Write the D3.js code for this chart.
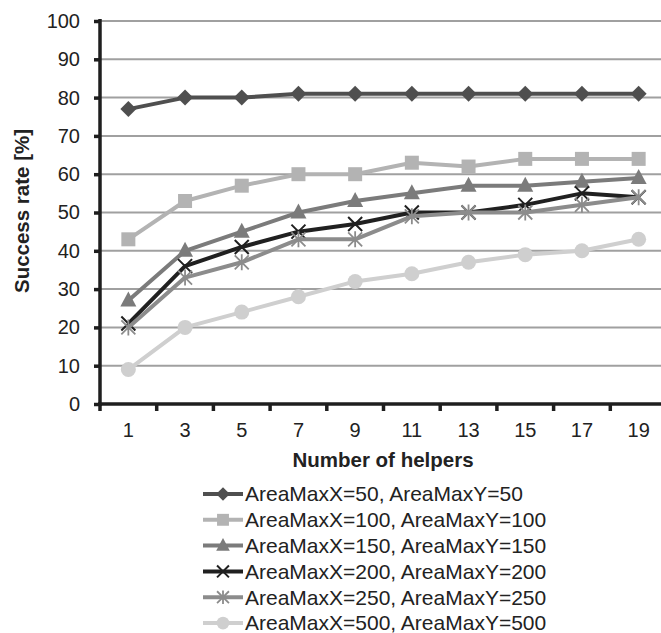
<!DOCTYPE html>
<html>
<head>
<meta charset="utf-8">
<script src="https://cdn.jsdelivr.net/npm/d3@7"></script>
<style>
  html, body { margin: 0; padding: 0; background: #fff; }
  svg { display: block; font-family: "Liberation Sans", Arial, sans-serif; }
</style>
</head>
<body>
<svg id="chart" width="661" height="633"></svg>
<script>
// Number of helpers (x categories)
const helpers = ["1", "3", "5", "7", "9", "11", "13", "15", "17", "19"];
const yTicks = [0, 10, 20, 30, 40, 50, 60, 70, 80, 90, 100];

// Success rate [%] per area size
const area50  = [77, 80, 80, 81, 81, 81, 81, 81, 81, 81];
const area100 = [43, 53, 57, 60, 60, 63, 62, 64, 64, 64];
const area150 = [27, 40, 45, 50, 53, 55, 57, 57, 58, 59];
const area200 = [21, 36, 41, 45, 47, 50, 50, 52, 55, 54];
const area250 = [20, 33, 37, 43, 43, 49, 50, 50, 52, 54];
const area500 = [9, 20, 24, 28, 32, 34, 37, 39, 40, 43];

const seriesNames = [
  "AreaMaxX=50, AreaMaxY=50",
  "AreaMaxX=100, AreaMaxY=100",
  "AreaMaxX=150, AreaMaxY=150",
  "AreaMaxX=200, AreaMaxY=200",
  "AreaMaxX=250, AreaMaxY=250",
  "AreaMaxX=500, AreaMaxY=500"
];
const seriesValues = [area50, area100, area150, area200, area250, area500];
const seriesColors = ["#4f4f4f", "#b3b3b3", "#7b7b7b", "#202020", "#8c8c8c", "#cfcfcf"];
const seriesMarkers = ["diamond", "square", "triangle", "cross", "asterisk", "circle"];

const series = seriesNames.map((name, i) => ({
  name, values: seriesValues[i], color: seriesColors[i], marker: seriesMarkers[i]
}));

const svg = d3.select("#chart");

const x = d3.scaleBand().domain(helpers).range([100, 667]);
const y = d3.scaleLinear().domain([0, 100]).range([404, 21]);

// horizontal gridlines
svg.append("g")
  .selectAll("line")
  .data(yTicks.filter(t => t > 0))
  .join("line")
  .attr("x1", 100).attr("x2", 661)
  .attr("y1", d => y(d)).attr("y2", d => y(d))
  .attr("stroke", "#a0a0a0").attr("stroke-width", 2);

// y axis
const yAxis = svg.append("g")
  .attr("transform", "translate(100,0)")
  .call(d3.axisLeft(y).tickValues(yTicks).tickSize(6).tickPadding(14));
yAxis.select(".domain").attr("stroke", "#1e1e1e").attr("stroke-width", 3.5)
  .attr("d", `M0,${y(100) - 2}V${y(0) + 2}`);
yAxis.selectAll(".tick line").attr("stroke", "#1e1e1e").attr("stroke-width", 3.5);
yAxis.selectAll(".tick text").attr("font-size", 20).attr("fill", "#222")
  .attr("font-family", "'Liberation Sans', Arial, sans-serif");

// x axis (ticks on category boundaries)
const xAxisG = svg.append("g").attr("transform", `translate(0,${y(0)})`);
xAxisG.append("line")
  .attr("x1", 98).attr("x2", 661)
  .attr("stroke", "#1e1e1e").attr("stroke-width", 3.5);
xAxisG.selectAll("line.tick")
  .data(helpers)
  .join("line")
  .attr("class", "tick")
  .attr("x1", d => x(d)).attr("x2", d => x(d))
  .attr("y1", 0).attr("y2", 7)
  .attr("stroke", "#1e1e1e").attr("stroke-width", 3.5);
xAxisG.selectAll("text")
  .data(helpers)
  .join("text")
  .attr("x", d => x(d) + x.bandwidth() / 2)
  .attr("y", 26)
  .attr("dy", "0.35em")
  .attr("text-anchor", "middle")
  .attr("font-size", 20).attr("fill", "#222")
  .text(d => d);

// axis titles
svg.append("text")
  .attr("x", 383).attr("y", 460).attr("dy", "0.35em")
  .attr("text-anchor", "middle")
  .attr("font-size", 20.5).attr("font-weight", "bold").attr("fill", "#222")
  .text("Number of helpers");
svg.append("text")
  .attr("transform", "translate(22,211) rotate(-90)")
  .attr("dy", "0.35em")
  .attr("text-anchor", "middle")
  .attr("font-size", 20.5).attr("font-weight", "bold").attr("fill", "#222")
  .text("Success rate [%]");

// marker drawing
function drawMarker(g, type, color, k = 1) {
  switch (type) {
    case "diamond":
      g.append("path").attr("d", `M0,${-8 * k}L${8 * k},0L0,${8 * k}L${-8 * k},0Z`).attr("fill", color);
      break;
    case "square":
      g.append("rect").attr("x", -7 * k).attr("y", -7 * k)
        .attr("width", 14 * k).attr("height", 14 * k).attr("fill", color);
      break;
    case "triangle":
      g.append("path").attr("d", `M0,${-9 * k}L${8 * k},${6 * k}L${-8 * k},${6 * k}Z`).attr("fill", color);
      break;
    case "cross":
      g.append("path").attr("d", `M${-7 * k},${-7 * k}L${7 * k},${7 * k}M${-7 * k},${7 * k}L${7 * k},${-7 * k}`)
        .attr("stroke", color).attr("stroke-width", 2).attr("fill", "none");
      break;
    case "asterisk":
      g.append("path").attr("d", `M${-7 * k},${-7 * k}L${7 * k},${7 * k}M${-7 * k},${7 * k}L${7 * k},${-7 * k}M0,${-8 * k}L0,${8 * k}`)
        .attr("stroke", color).attr("stroke-width", 1.8).attr("fill", "none");
      break;
    case "circle":
      g.append("circle").attr("r", 7.5 * k).attr("fill", color);
      break;
  }
}

const line = d3.line()
  .x((d, i) => x(helpers[i]) + x.bandwidth() / 2)
  .y(d => y(d));

const plot = svg.append("g");
series.forEach(s => {
  const g = plot.append("g");
  g.append("path")
    .attr("d", line(s.values))
    .attr("fill", "none")
    .attr("stroke", s.color)
    .attr("stroke-width", 4)
    .attr("stroke-linejoin", "round");
  s.values.forEach((v, i) => {
    const m = g.append("g")
      .attr("transform", `translate(${x(helpers[i]) + x.bandwidth() / 2},${y(v)})`);
    drawMarker(m, s.marker, s.color);
  });
});

// legend
const legend = svg.append("g");
series.forEach((s, i) => {
  const row = legend.append("g").attr("transform", `translate(0,${494 + i * 25.8})`);
  row.append("line")
    .attr("x1", 203).attr("x2", 243)
    .attr("stroke", s.color).attr("stroke-width", 4);
  drawMarker(row.append("g").attr("transform", "translate(223,0)"), s.marker, s.color, 0.85);
  row.append("text")
    .attr("x", 245).attr("dy", "0.35em")
    .attr("font-size", 21).attr("fill", "#222")
    .text(s.name);
});
</script>
</body>
</html>
